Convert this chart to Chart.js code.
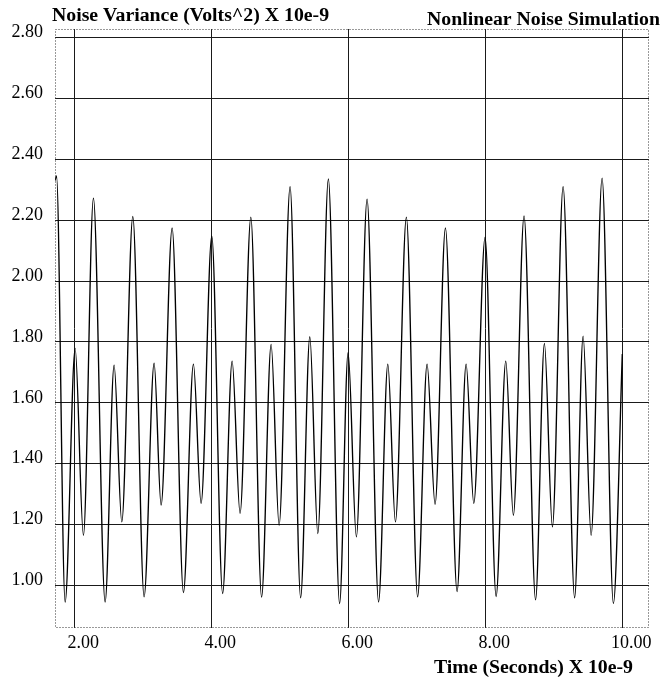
<!DOCTYPE html>
<html>
<head>
<meta charset="utf-8">
<script src="https://cdn.jsdelivr.net/npm/chart.js@4/dist/chart.umd.min.js"></script>
<style>
  html, body { margin: 0; padding: 0; background: #fff; }
  #wrap { width: 664px; height: 681px; }
</style>
</head>
<body>
<div id="wrap"><canvas id="c" width="664" height="681"></canvas></div>
<script>
// Simulated noise variance samples (turning points of the waveform)
const timeValues = [
  1.72, 1.74,
  1.866, 2.012, 2.133, 2.279,
  2.450, 2.581, 2.693, 2.854,
  3.019, 3.165, 3.267, 3.428,
  3.593, 3.739, 3.851, 4.007,
  4.165, 4.304, 4.420, 4.577,
  4.734, 4.873, 4.990, 5.150,
  5.304, 5.438, 5.555, 5.709,
  5.873, 5.997, 6.118, 6.274,
  6.442, 6.577, 6.688, 6.848,
  7.012, 7.150, 7.267, 7.418,
  7.588, 7.720, 7.832, 7.997,
  8.158, 8.299, 8.410, 8.566,
  8.734, 8.863, 8.980, 9.136,
  9.304, 9.428, 9.545, 9.705,
  9.870, 10.0
];
const varianceValues = [
  2.33, 2.345,
  0.946, 1.779, 1.165, 2.272,
  0.946, 1.724, 1.209, 2.212,
  0.963, 1.730, 1.264, 2.174,
  0.977, 1.727, 1.270, 2.148,
  0.974, 1.737, 1.237, 2.210,
  0.962, 1.792, 1.198, 2.310,
  0.960, 1.817, 1.171, 2.335,
  0.941, 1.765, 1.160, 2.269,
  0.946, 1.727, 1.209, 2.210,
  0.963, 1.727, 1.267, 2.174,
  0.980, 1.727, 1.270, 2.144,
  0.964, 1.737, 1.231, 2.214,
  0.953, 1.795, 1.193, 2.310,
  0.960, 1.819, 1.165, 2.338,
  0.941, 1.76
];

// Axis ticks and extents
const xTicks = [2, 4, 6, 8, 10];
const yTicks = [1.0, 1.2, 1.4, 1.6, 1.8, 2.0, 2.2, 2.4, 2.6, 2.8];
const xRange = [1.718, 10.39];
const yRange = [0.8606, 2.8276];

// Text
const yAxisTitle = 'Noise Variance (Volts^2) X 10e-9';
const chartTitle = 'Nonlinear Noise Simulation';
const xAxisTitle = 'Time (Seconds) X 10e-9';

const SERIF = '"Liberation Serif", "Times New Roman", Times, serif';

const points = timeValues.map((t, i) => ({ x: t, y: varianceValues[i] }));

// Dotted frame around the plot plus the three header/footer captions
const framePlugin = {
  id: 'frameAndCaptions',
  afterDraw(chart) {
    const { ctx, chartArea: a } = chart;
    ctx.save();
    ctx.strokeStyle = '#333';
    ctx.lineWidth = 1;
    ctx.setLineDash([1, 2]);
    ctx.strokeRect(Math.round(a.left) + 0.5, Math.round(a.top) + 0.5,
                   Math.round(a.right - a.left) - 1, Math.round(a.bottom - a.top) - 1);
    ctx.setLineDash([]);
    ctx.fillStyle = '#000';
    ctx.font = 'bold 19.8px ' + SERIF;
    ctx.textBaseline = 'alphabetic';
    ctx.textAlign = 'left';
    ctx.fillText(yAxisTitle, 52, 21);
    ctx.textAlign = 'right';
    ctx.fillText(chartTitle, 660, 25);
    ctx.fillText(xAxisTitle, 633, 673);
    ctx.restore();
  }
};

new Chart(document.getElementById('c'), {
  type: 'line',
  data: {
    datasets: [{
      data: points,
      borderColor: '#000',
      borderWidth: 1.35,
      pointRadius: 0,
      fill: false,
      cubicInterpolationMode: 'monotone'
    }]
  },
  options: {
    responsive: false,
    animation: false,
    devicePixelRatio: 1,
    layout: { padding: { left: 0, right: 15, top: 29, bottom: 0 } },
    plugins: { legend: { display: false }, tooltip: { enabled: false }, title: { display: false } },
    scales: {
      x: {
        type: 'linear',
        min: xRange[0],
        max: xRange[1],
        afterFit(scale) { scale.height = 53; },
        afterBuildTicks(scale) { scale.ticks = xTicks.map(v => ({ value: v })); },
        grid: { color: '#1a1a1a', lineWidth: 1, drawTicks: false },
        border: { display: false },
        ticks: {
          padding: 4,
          labelOffset: 9,
          color: '#000',
          font: { family: SERIF, size: 18 },
          maxRotation: 0,
          autoSkip: false,
          callback: v => Number(v).toFixed(2)
        }
      },
      y: {
        type: 'linear',
        min: yRange[0],
        max: yRange[1],
        afterFit(scale) { scale.width = 55; },
        afterBuildTicks(scale) { scale.ticks = yTicks.map(v => ({ value: v })); },
        grid: { color: '#1a1a1a', lineWidth: 1, drawTicks: false },
        border: { display: false },
        ticks: {
          padding: 12,
          labelOffset: -5,
          color: '#000',
          font: { family: SERIF, size: 18 },
          autoSkip: false,
          callback: v => Number(v).toFixed(2)
        }
      }
    }
  },
  plugins: [framePlugin]
});
</script>
</body>
</html>
